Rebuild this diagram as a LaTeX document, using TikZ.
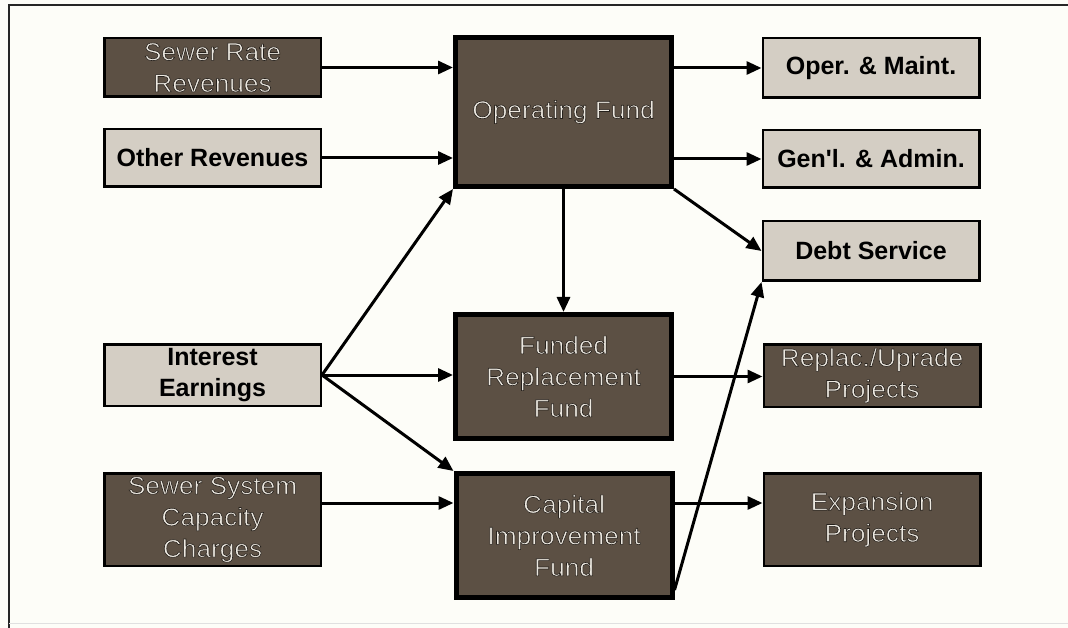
\documentclass[tikz,border=0pt]{standalone}
\usepackage{fontspec}
\setmainfont{Liberation Sans}
\newfontfamily\darkfont[FakeStretch=1.05]{Liberation Sans}
\newfontfamily\lightfont[Mapping=]{Liberation Sans}
\usetikzlibrary{arrows.meta,positioning,calc}
\definecolor{boxdark}{RGB}{92,80,68}
\definecolor{boxlight}{RGB}{212,206,196}
\definecolor{textlight}{RGB}{236,232,224}
\definecolor{paper}{RGB}{253,253,248}
% light letters with a dark rim
\newcommand{\rimtext}[1]{\special{pdf:literal direct 0.15 0.13 0.11 RG 0.6 w 2 Tr}#1\special{pdf:literal direct 0 Tr}}

\begin{document}
\begin{tikzpicture}[x=1pt, y=-1pt, >={Triangle[length=15pt,width=13pt]}, line width=3pt,
  srcbox/.style={draw=black, line width=2.5pt, minimum width=216.5pt, align=center, inner sep=0pt},
  darkbox/.style={srcbox, fill=boxdark, text=textlight, font=\darkfont\fontsize{25}{31.5}\selectfont},
  lightbox/.style={srcbox, fill=boxlight, text=black, font=\lightfont\bfseries\fontsize{25}{31.5}\selectfont},
  fundbox/.style={darkbox, line width=5pt, minimum width=216pt}]
  \useasboundingbox (0,0) rectangle (1068,628);
  \fill[paper] (0,0) rectangle (1068,628);
  \draw[black!85, line width=2.5pt] (1068,5) -- (9,5) -- (9,628);
  \draw[black!12, line width=1pt] (9,623) -- (1068,623);
  % sources
  \node[darkbox, minimum height=58.5pt] (srr) at (212.5,67.5) {\rimtext{Sewer Rate\\Revenues}};
  \node[lightbox, minimum height=57.5pt] (orev) at (212.5,158) {Other Revenues};
  \node[lightbox, minimum height=61.5pt] (intr) at (212.5,375) {Interest\\Earnings};
  \node[darkbox, minimum height=92.5pt] (sscc) at (212.5,519.5) {\rimtext{Sewer System\\Capacity\\Charges}};
  % funds
  \node[fundbox, minimum height=149pt] (opf) at (563.5,112) {\rimtext{Operating Fund}};
  \node[fundbox, minimum height=124pt] (frf) at (563.5,376.5) {\rimtext{Funded\\Replacement\\Fund}};
  \node[fundbox, minimum height=124pt] (cif) at (564,535.5) {\rimtext{Capital\\Improvement\\Fund}};
  % uses
  \node[lightbox, minimum height=59.5pt] (om) at (871,68) {Oper. \& Maint.};
  \node[lightbox, minimum height=57.5pt] (ga) at (871,159) {Gen'l. \& Admin.};
  \node[lightbox, minimum height=59.5pt] (ds) at (871,251) {Debt Service};
  \node[darkbox, minimum height=62.5pt] (rup) at (872,375.5) {\rimtext{Replac./Uprade\\Projects}};
  \node[darkbox, minimum height=92.5pt] (exp) at (872,519.5) {\rimtext{Expansion\\Projects}};
  \coordinate (lvl) at (0,503);
  % flows
  \draw[->] (srr.east) -- (srr.east -| opf.west);
  \draw[->] (orev.east) -- (orev.east -| opf.west);
  \draw[->] (om.west -| opf.east) -- (om.west);
  \draw[->] (ga.west -| opf.east) -- (ga.west);
  \draw[->] (opf.south east) -- (ds.west);
  \draw[->] (opf.south) -- (frf.north);
  \draw[->] (intr.east) -- (opf.south west);
  \draw[->] (intr.east) -- (intr.east -| frf.west);
  \draw[->] (intr.east) -- (cif.north west);
  \draw[->] (sscc.east |- lvl) -- (cif.west |- lvl);
  \draw[->] (frf.east) -- (frf.east -| rup.west);
  \draw[->] (cif.east |- lvl) -- (exp.west |- lvl);
  \draw[->] ([yshift=10pt]cif.south east) -- (ds.south west);
\end{tikzpicture}
\end{document}
